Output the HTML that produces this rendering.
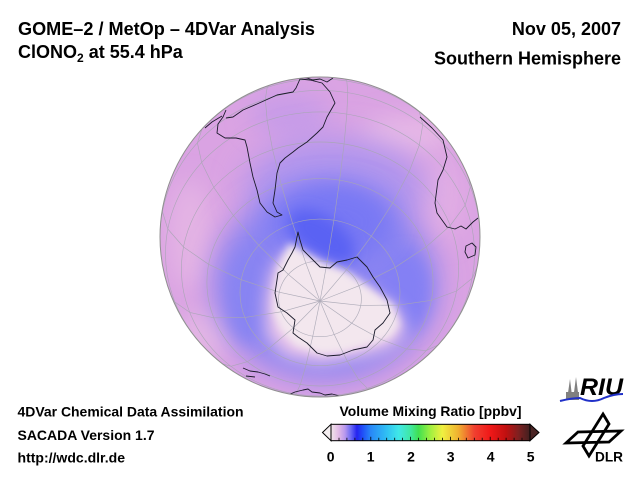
<!DOCTYPE html>
<html>
<head>
<meta charset="utf-8">
<style>
html,body{margin:0;padding:0;background:#fff;}
svg{display:block;}
text{font-family:"Liberation Sans",Arial,Helvetica,sans-serif;font-weight:bold;fill:#000;}
</style>
</head>
<body>
<svg width="640" height="480" viewBox="0 0 640 480" xmlns="http://www.w3.org/2000/svg">
<defs>
  <clipPath id="g"><circle cx="320" cy="237" r="160"/></clipPath>
  <filter id="b4" x="-50%" y="-50%" width="200%" height="200%"><feGaussianBlur stdDeviation="4"/></filter>
  <filter id="b7" x="-50%" y="-50%" width="200%" height="200%"><feGaussianBlur stdDeviation="7"/></filter>
  <filter id="b8" x="-50%" y="-50%" width="200%" height="200%"><feGaussianBlur stdDeviation="8"/></filter>
  <filter id="b12" x="-50%" y="-50%" width="200%" height="200%"><feGaussianBlur stdDeviation="12"/></filter>
  <filter id="b14" x="-50%" y="-50%" width="200%" height="200%"><feGaussianBlur stdDeviation="14"/></filter>
  <filter id="b16" x="-50%" y="-50%" width="200%" height="200%"><feGaussianBlur stdDeviation="16"/></filter>
  <linearGradient id="cb" gradientUnits="userSpaceOnUse" x1="331" y1="0" x2="530" y2="0">
    <stop offset="0" stop-color="#f2e6ea"/>
    <stop offset="0.04" stop-color="#e0b8e6"/>
    <stop offset="0.07" stop-color="#b898ee"/>
    <stop offset="0.10" stop-color="#6a6af4"/>
    <stop offset="0.13" stop-color="#2424f0"/>
    <stop offset="0.16" stop-color="#2050f8"/>
    <stop offset="0.20" stop-color="#2888f8"/>
    <stop offset="0.28" stop-color="#30c0f4"/>
    <stop offset="0.34" stop-color="#40e8e8"/>
    <stop offset="0.40" stop-color="#40e8a0"/>
    <stop offset="0.44" stop-color="#40e050"/>
    <stop offset="0.50" stop-color="#a0f040"/>
    <stop offset="0.56" stop-color="#f0f040"/>
    <stop offset="0.64" stop-color="#f0b030"/>
    <stop offset="0.72" stop-color="#f04030"/>
    <stop offset="0.80" stop-color="#f01818"/>
    <stop offset="0.88" stop-color="#c01010"/>
    <stop offset="0.94" stop-color="#802020"/>
    <stop offset="1" stop-color="#402020"/>
  </linearGradient>
</defs>

<!-- Titles -->
<text x="18" y="35.2" font-size="18" textLength="297" lengthAdjust="spacingAndGlyphs">GOME–2 / MetOp – 4DVar Analysis</text>
<text x="18" y="57.8" font-size="18">ClONO<tspan font-size="12" dy="4">2</tspan><tspan dy="-4"> at 55.4 hPa</tspan></text>
<text x="621" y="35.2" font-size="18" text-anchor="end">Nov 05, 2007</text>
<text x="621" y="64.3" font-size="18" text-anchor="end">Southern Hemisphere</text>

<!-- Globe field -->
<g clip-path="url(#g)">
  <rect x="150" y="70" width="340" height="340" fill="#daa3e3"/>
  <g filter="url(#b12)">
    <ellipse cx="405" cy="135" rx="45" ry="18" fill="#e8bae6"/>
    <ellipse cx="190" cy="235" rx="22" ry="55" fill="#e4b4e4"/>
    <ellipse cx="205" cy="335" rx="30" ry="25" fill="#e4b6e4"/>
    <ellipse cx="442" cy="200" rx="22" ry="40" fill="#e2aee4"/>
    <ellipse cx="290" cy="115" rx="40" ry="22" fill="#c89ce8"/>
  </g>
  <ellipse cx="335" cy="190" rx="90" ry="52" fill="#ae94ee" filter="url(#b16)"/>
  <ellipse cx="325" cy="284" rx="112" ry="96" fill="#8a84f2" filter="url(#b14)"/>
  <ellipse cx="405" cy="292" rx="24" ry="40" fill="#8480f4" filter="url(#b8)"/>
  <ellipse cx="248" cy="298" rx="18" ry="44" fill="#8884f2" filter="url(#b8)"/>
  <ellipse cx="332" cy="222" rx="60" ry="40" fill="#7878f4" filter="url(#b12)"/>
  <ellipse cx="322" cy="237" rx="38" ry="20" transform="rotate(35 322 237)" fill="#5a62f3" filter="url(#b7)"/>
  <path d="M288,250 L347,278 L398,308 L407,332 L392,348 L367,356 L320,364 L285,357 L266,336 L265,300 L272,268 Z" fill="#e6c2ea" filter="url(#b8)"/>
  <path d="M290,243 L300,250 L320,262 L347,272 L370,288 L393,305 L400,325 L390,338 L367,346 L340,353 L320,354 L295,346 L280,330 L273,312 L274,290 L278,268 L285,252 Z" fill="#f3e7ee" filter="url(#b4)"/>

  <!-- graticule -->
  <g fill="none" stroke="#a8a6b4" stroke-width="0.65" stroke-linejoin="round" opacity="0.9">
    <ellipse cx="320" cy="298.8" rx="41.4" ry="37.9"/>
    <ellipse cx="320" cy="292.4" rx="80" ry="73.3"/>
    <ellipse cx="320" cy="282.3" rx="113.1" ry="103.7"/>
    <ellipse cx="320" cy="269" rx="138.6" ry="127"/>
    <path d="M198.1,340.5 A154.5,141.6 0 1,1 441.9,340.5"/>
    <path d="M160,237 A160,146.6 0 0,1 480,237"/>
    <path d="M198.1,133.5 A154.5,141.6 0 0,1 441.9,133.5"/>
    <polyline points="320,301 327.2,261.4 333.9,220.2 339.6,180.2 344.1,143.9 346.8,114.2 347.8,92.6 346.8,81.0 345.5,79.2"/>
    <polyline points="320,301 305.8,263.1 292.6,223.5 281.3,184.9 272.6,149.7 267.2,120.5 265.3,99.2 267.2,87.3 269.4,85.3"/>
    <polyline points="320,301 346.6,269.7 371.4,236.2 392.7,202.9 409.1,171.7 419.3,145.1 422.8,124.7 419.3,111.9 417.5,110.2"/>
    <polyline points="320,301 288.3,274.4 258.7,245.3 233.4,215.6 213.8,187.4 201.7,162.6 197.4,142.8 202,129"/>
    <polyline points="320,301 358.9,285.8 395.2,267.3 426.3,246.8 450.2,225.6 465.2,205.2 470.4,186.9 468.7,177.9"/>
    <polyline points="320,301 279.2,292.2 241.2,279.7 208.6,264.3 183.5,247 167.8,229 162.4,211.6 162.9,206.8"/>
    <polyline points="320,301 360.8,305.4 398.8,305.1 431.4,300.3 456.5,291 472.2,278.2 477.1,267.2"/>
    <polyline points="320,301 281.1,311.8 244.8,317.5 213.7,317.8 189.8,312.4 174.8,302 171.3,296.1"/>
    <polyline points="320,301 351.7,323.2 381.3,339.5 406.6,349 426.2,350.6 438,345"/>
    <polyline points="320,301 293.4,327.9 268.6,348.6 247.3,361.7 230.9,366.3 222.5,363.8"/>
    <polyline points="320,301 334.2,334.5 347.4,361.3 358.7,379.7 367.4,388.3 370.6,388.7"/>
    <polyline points="320,301 312.8,336.2 306.1,364.6 300.4,384.4 295.9,394.1 294.5,394.8"/>
  </g>

  <!-- coastlines -->
  <g fill="none" stroke="#1a1a2a" stroke-width="0.9" stroke-linejoin="round">
    <path d="M226,110 L223,117 L218,124 L217,133 L225,138 L236,138 L245,140 L247,147 L250,163 L253,177 L257,190 L260,203 L267,212 L275,217 L282,215 L277,212 L273,203 L275,190 L277,173 L280,163 L285,158 L293,152 L298,148 L307,142 L317,133 L323,127 L327,117 L335,103 L330,92 L322,83 L310,80 L300,79 L296,88 L293,92 L277,95 L257,104 L243,110 L233,117 L226,118"/>
    <path d="M205,128 L212,122 L222,116"/>
    <path d="M300,77 L307,78 L313,80 L320,79 L327,82 L333,78"/>
    <path d="M298,232 L297,237 L295,247 L292,253 L288,260 L283,270 L278,273 L277,280 L275,293 L278,307 L287,313 L295,320 L293,333 L298,337 L307,343 L317,353 L327,356 L340,355 L353,350 L367,347 L373,340 L375,330 L383,323 L390,313 L387,300 L380,287 L373,277 L367,267 L360,260 L357,257 L347,260 L337,262 L330,268 L320,267 L310,257 L303,250 L300,240 Z"/>
    <path d="M420,117 L432,128 L443,140 L447,157 L443,170 L438,180 L435,203 L437,213 L442,220 L447,227 L455,229 L461,226 L466,229 L473,222 L478,218"/>
    <path d="M466,246 L472,243 L476,247 L475,255 L468,258 L465,252 Z"/>
    <path d="M243,368 L250,371 L258,372 L265,374 L270,376 M246,376 L255,377"/>
    <path d="M288,395 L295,392 L303,390 L308,389 L312,392 L320,393 L325,395 L332,394 L340,396"/>
  </g>
</g>
<circle cx="320" cy="237" r="160" fill="none" stroke="#909090" stroke-width="1"/>

<!-- Bottom-left texts -->
<text x="17.5" y="416.7" font-size="14" textLength="226" lengthAdjust="spacingAndGlyphs">4DVar Chemical Data Assimilation</text>
<text x="17.5" y="440" font-size="14" textLength="137" lengthAdjust="spacingAndGlyphs">SACADA Version 1.7</text>
<text x="17.5" y="462.7" font-size="14" textLength="107.5" lengthAdjust="spacingAndGlyphs">http://wdc.dlr.de</text>

<!-- Colorbar -->
<text x="430.5" y="416" font-size="14" text-anchor="middle" textLength="182" lengthAdjust="spacingAndGlyphs">Volume Mixing Ratio [ppbv]</text>
<rect x="331" y="424.3" width="199" height="16.4" fill="url(#cb)" stroke="#000" stroke-width="1"/>
<path d="M331,424.3 L322.5,432.5 L331,440.7 Z" fill="#f4eef0" stroke="#000" stroke-width="1"/>
<path d="M530,424.3 L539,432.5 L530,440.7 Z" fill="#4a2424" stroke="#000" stroke-width="1"/>
<g stroke="#000" stroke-width="0.8">
  <path d="M339,440.7v-3 M346.9,440.7v-3 M354.9,440.7v-3 M362.8,440.7v-3 M370.8,440.7v-4 M378.8,440.7v-3 M386.7,440.7v-3 M394.7,440.7v-3 M402.6,440.7v-3 M410.6,440.7v-4 M418.6,440.7v-3 M426.5,440.7v-3 M434.5,440.7v-3 M442.4,440.7v-3 M450.4,440.7v-4 M458.4,440.7v-3 M466.3,440.7v-3 M474.3,440.7v-3 M482.2,440.7v-3 M490.2,440.7v-4 M498.2,440.7v-3 M506.1,440.7v-3 M514.1,440.7v-3 M522,440.7v-3"/>
</g>
<g font-size="14" text-anchor="middle">
  <text x="330.7" y="461.7">0</text>
  <text x="370.7" y="461.7">1</text>
  <text x="411" y="461.7">2</text>
  <text x="450.7" y="461.7">3</text>
  <text x="490.7" y="461.7">4</text>
  <text x="530.7" y="461.7">5</text>
</g>

<!-- RIU logo -->
<g fill="#808080">
  <rect x="566" y="392" width="13" height="8"/>
  <polygon points="567,400 570,379 572.5,400"/>
  <polygon points="573,400 576,377 579,400"/>
</g>
<text x="580" y="395" font-size="24" font-style="italic" textLength="43" lengthAdjust="spacingAndGlyphs">RIU</text>
<path d="M560,401 Q572,398 580,398 Q592,404 604,398 Q614,394 623,394" fill="none" stroke="#2030c8" stroke-width="2"/>

<!-- DLR logo -->
<g fill="none" stroke="#000" stroke-width="2.8" stroke-linejoin="miter">
  <path d="M603,414 L609,424 L589,456 L583,446 Z"/>
  <path d="M566,443 L578,432 L621,431 L609,442 Z"/>
</g>
<text x="595" y="461.7" font-size="14" textLength="28" lengthAdjust="spacingAndGlyphs">DLR</text>
</svg>
</body>
</html>
